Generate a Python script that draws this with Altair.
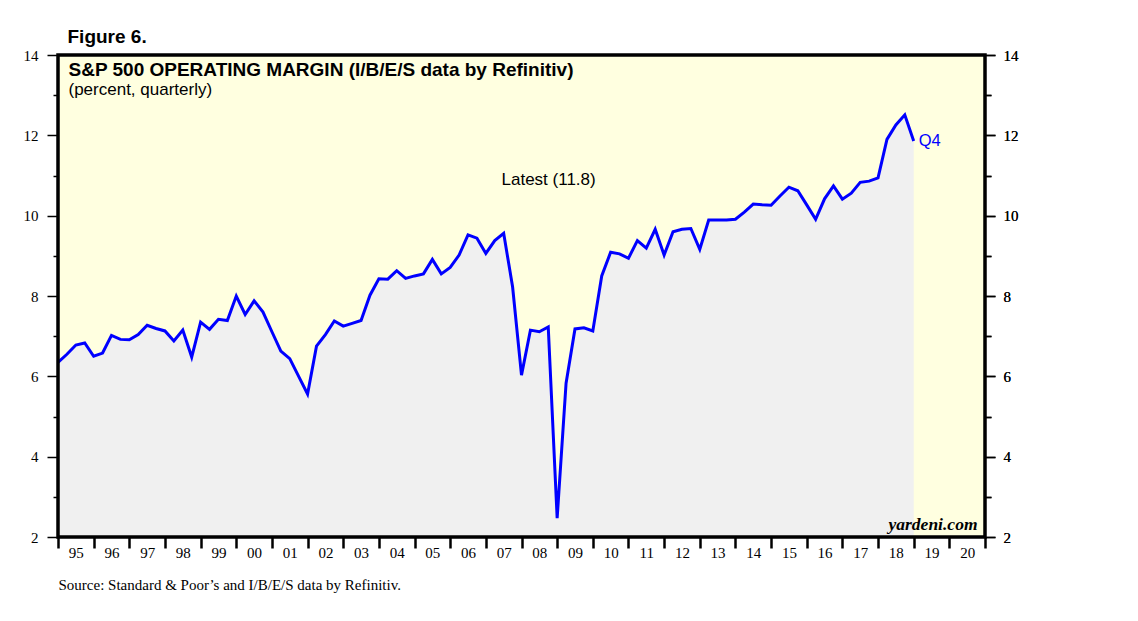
import json
import altair as alt
import pandas as pd

# S&P 500 operating margin, quarterly (first value = Q4 1994, plotted at start of 1995)
first_year = 1995
margin = [
    6.35, 6.55, 6.78, 6.83,
    6.50, 6.58, 7.02, 6.92,
    6.91, 7.04, 7.27, 7.19,
    7.13, 6.88, 7.15, 6.48,
    7.35, 7.17, 7.42, 7.39,
    8.00, 7.54, 7.88, 7.60,
    7.11, 6.63, 6.44, 6.00,
    5.56, 6.75, 7.04, 7.38,
    7.25, 7.32, 7.39, 8.02,
    8.43, 8.42, 8.63, 8.44,
    8.50, 8.55, 8.91, 8.55,
    8.71, 9.02, 9.52, 9.44,
    9.06, 9.38, 9.56, 8.23,
    6.03, 7.15, 7.11, 7.23,
    2.47, 5.83, 7.18, 7.21,
    7.13, 8.50, 9.09, 9.05,
    8.94, 9.38, 9.19, 9.66,
    9.02, 9.60, 9.66, 9.68,
    9.16, 9.89, 9.89, 9.89,
    9.91, 10.09, 10.29, 10.27,
    10.26, 10.49, 10.71, 10.62,
    10.27, 9.91, 10.42, 10.74,
    10.41, 10.56, 10.83, 10.86,
    10.94, 11.90, 12.26, 12.51,
    11.86,
]
year_labels = ["95", "96", "97", "98", "99", "00", "01", "02", "03", "04", "05",
               "06", "07", "08", "09", "10", "11", "12", "13", "14", "15", "16",
               "17", "18", "19", "20"]
y_ticks = list(range(2, 15))
last_label = ["Q4"]
title_text = "Figure 6."
chart_title = "S&P 500 OPERATING MARGIN (I/B/E/S data by Refinitiv)"
chart_subtitle = "(percent, quarterly)"
latest_text = "Latest (11.8)"
brand_text = "yardeni.com"
source_text = "Source: Standard & Poor\u2019s and I/B/E/S data by Refinitiv."

t = [first_year + 0.25 * i for i in range(len(margin))]
df = pd.DataFrame({"t": t, "margin": margin})
df_last = pd.DataFrame({"t": [t[-1]], "margin": [margin[-1]], "lab": last_label})

W, H = 927, 482
x_start, x_end = 1995, 2021
xscale = alt.Scale(domain=[x_start, x_end], nice=False, zero=False)
yscale = alt.Scale(domain=[2, 14], nice=False, zero=False)

SERIF = "Liberation Serif, Times New Roman, serif"
SANS = "Liberation Sans, Arial, sans-serif"

x_vals = [x_start + 0.5 * k for k in range(2 * (x_end - x_start) + 1)]
x_axis = alt.Axis(
    values=x_vals, title=None, domain=False, grid=False,
    tickSize=11, tickWidth=2.5, tickColor="black",
    tickOpacity={"condition": {"test": "datum.value % 1 == 0", "value": 1}, "value": 0},
    labelExpr=f"datum.value % 1 > 0.25 ? {json.dumps(year_labels)}[floor(datum.value) - {x_start}] : ''",
    labelFont=SERIF, labelFontSize=15, labelColor="black", labelPadding=-3,
    labelOverlap=False, labelFlush=False, labelBound=False,
)
yl_axis = alt.Axis(
    orient="left", values=y_ticks, title=None, domain=False, grid=False,
    tickSize={"condition": {"test": "datum.value % 2 == 0", "value": 11}, "value": 5},
    tickWidth=1.5, tickColor="black",
    labelExpr="datum.value % 2 == 0 ? datum.label : ''",
    labelFont=SERIF, labelFontSize=15, labelColor="black", labelPadding=9,
    labelOverlap=False, labelFlush=False,
)
yr_axis = alt.Axis(
    orient="right", values=y_ticks, title=None, domain=False, grid=False,
    tickSize={"condition": {"test": "datum.value % 2 == 0", "value": 10}, "value": 6},
    tickWidth=1.5, tickColor="black",
    labelExpr="datum.value % 2 == 0 ? datum.label : ''",
    labelFont=SERIF, labelFontSize=15, labelColor="black", labelPadding=8,
    labelOverlap=False, labelFlush=False,
)

base = alt.Chart(df)
area = base.mark_area(color="#F0F0F0").encode(
    x=alt.X("t:Q", scale=xscale, axis=x_axis),
    y=alt.Y("margin:Q", scale=yscale, axis=yl_axis),
    y2=alt.datum(2),
)
line = base.mark_line(color="#0000FF", strokeWidth=3).encode(
    x=alt.X("t:Q", scale=xscale, axis=x_axis),
    y=alt.Y("margin:Q", scale=yscale, axis=yr_axis),
)
q4 = alt.Chart(df_last).mark_text(
    align="left", baseline="middle", dx=5, fontSize=16.5, font=SANS, color="#0000FF"
).encode(
    x=alt.X("t:Q", scale=xscale, axis=x_axis),
    y=alt.Y("margin:Q", scale=yscale, axis=yr_axis),
    text="lab:N",
)


def label(txt, x, y, size, align="left", weight="normal", style="normal",
          font=SANS, baseline="middle", color="black"):
    return alt.Chart(pd.DataFrame({"txt": [txt]})).mark_text(
        align=align, baseline=baseline, fontSize=size, fontWeight=weight,
        fontStyle=style, font=font, color=color,
    ).encode(text="txt:N", x=alt.value(x), y=alt.value(y))


texts = [
    label(title_text, 9.5, -12, 19, weight="bold", baseline="alphabetic"),
    label(chart_title, 10.5, 15, 19, weight="bold"),
    label(chart_subtitle, 10.5, 35, 17),
    label(latest_text, 443.5, 125, 17),
    label(brand_text, 919.5, 470, 17.5, align="right", weight="bold", style="italic", font=SERIF),
    label(source_text, 0.5, 530, 15, font=SERIF),
]

frame = alt.Chart(pd.DataFrame({"f": [0]})).mark_rect(
    fillOpacity=0, stroke="black", strokeWidth=3.5
).encode(x=alt.value(0), x2=alt.value(W), y=alt.value(0), y2=alt.value(H))

chart = alt.layer(area, line, q4, *texts, frame).resolve_axis(
    y="independent"
).properties(
    width=W, height=H,
    autosize=alt.AutoSizeParams(type="none"),
    padding={"left": 50, "top": 47, "right": 100, "bottom": 70},
    background="white",
).configure_view(stroke=None, fill="#FFFFE0")

chart.save("out.html", embed_options={"renderer": "svg", "actions": False})
